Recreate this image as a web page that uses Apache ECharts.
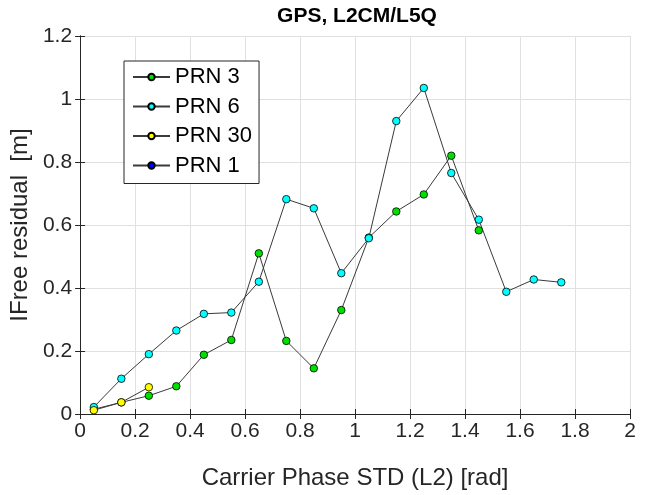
<!DOCTYPE html>
<html>
<head>
<meta charset="utf-8">
<script src="https://cdn.jsdelivr.net/npm/echarts@6/dist/echarts.min.js"></script>
<style>html,body{margin:0;padding:0;background:#fff;}#c{width:651px;height:495px;}</style>
</head>
<body>
<div id="c"></div>
<script>
const titleText = 'GPS, L2CM/L5Q';
const xLabel = 'Carrier Phase STD (L2) [rad]';
const yLabel = 'IFree residual  [m]';
const seriesNames = ['PRN 3', 'PRN 6', 'PRN 30', 'PRN 1'];
const seriesColors = ['#00e000', '#00ffff', '#ffff00', '#0000ff'];
const prn3X = [0.05, 0.15, 0.25, 0.35, 0.45, 0.55, 0.65, 0.75, 0.85, 0.95, 1.05, 1.15, 1.25, 1.35, 1.45];
const prn3Y = [0.015, 0.037, 0.058, 0.088, 0.188, 0.235, 0.51, 0.232, 0.145, 0.33, 0.56, 0.643, 0.697, 0.82, 0.583];
const prn6X = [0.05, 0.15, 0.25, 0.35, 0.45, 0.55, 0.65, 0.75, 0.85, 0.95, 1.05, 1.15, 1.25, 1.35, 1.45, 1.55, 1.65, 1.75];
const prn6Y = [0.022, 0.112, 0.19, 0.265, 0.318, 0.322, 0.42, 0.682, 0.653, 0.447, 0.558, 0.93, 1.035, 0.765, 0.617, 0.388, 0.427, 0.418];
const prn30X = [0.05, 0.15, 0.25];
const prn30Y = [0.012, 0.037, 0.085];
const prn1X = [];
const prn1Y = [];
const xTicks = [0, 0.2, 0.4, 0.6, 0.8, 1, 1.2, 1.4, 1.6, 1.8, 2];
const yTicks = [0, 0.2, 0.4, 0.6, 0.8, 1, 1.2];

const allX = [prn3X, prn6X, prn30X, prn1X];
const allY = [prn3Y, prn6Y, prn30Y, prn1Y];
const font = '"Liberation Sans", Arial, Helvetica, sans-serif';
const fmt = v => String(Math.round(v * 10) / 10);

const chart = echarts.init(document.getElementById('c'), null, {renderer: 'canvas'});
const axisLine = {show: true, lineStyle: {color: '#262626', width: 1}};
const tick = {show: true, inside: true, length: 5, lineStyle: {color: '#262626'}};
const grid = {show: true, lineStyle: {color: '#e0e0e0', width: 1}};
const option = {
  animation: false,
  backgroundColor: '#ffffff',
  title: {text: titleText, left: 357, top: 6, padding: 0, textAlign: 'center',
    textStyle: {fontFamily: font, fontSize: 21, fontWeight: 'bold', color: '#000'}},
  grid: {left: 80, right: 21, top: 36, bottom: 77, containLabel: false},
  legend: {
    orient: 'vertical', left: 124, top: 61, padding: [5, 7, 7, 8],
    itemGap: 7.5, itemWidth: 37, itemHeight: 8,
    backgroundColor: '#fff', borderColor: '#262626', borderWidth: 1, borderRadius: 0,
    textStyle: {fontFamily: font, fontSize: 22, color: '#000'},
    data: seriesNames
  },
  xAxis: [{
    type: 'value', min: 0, max: 2, interval: 0.2,
    name: xLabel, nameLocation: 'middle', nameGap: 52,
    nameTextStyle: {fontFamily: font, fontSize: 24, color: '#262626'},
    axisLine: axisLine, axisTick: tick, splitLine: grid,
    axisLabel: {fontFamily: font, fontSize: 21, color: '#262626', margin: 7, formatter: fmt}
  }, {
    type: 'value', min: 0, max: 2, interval: 0.2, position: 'top',
    axisLine: axisLine, axisTick: tick, splitLine: {show: false}, axisLabel: {show: false}
  }],
  yAxis: [{
    type: 'value', min: 0, max: 1.2, interval: 0.2,
    name: yLabel, nameLocation: 'middle', nameGap: 45,
    nameTextStyle: {fontFamily: font, fontSize: 24, color: '#262626'},
    axisLine: axisLine, axisTick: tick, splitLine: grid,
    axisLabel: {fontFamily: font, fontSize: 21, color: '#262626', margin: 8, formatter: fmt}
  }, {
    type: 'value', min: 0, max: 1.2, interval: 0.2, position: 'right',
    axisLine: axisLine, axisTick: tick, splitLine: {show: false}, axisLabel: {show: false}
  }],
  series: seriesNames.map((n, i) => ({
    name: n, type: 'line', xAxisIndex: 0, yAxisIndex: 0,
    data: allX[i].map((x, j) => [x, allY[i][j]]),
    symbol: 'circle', symbolSize: 7.5, showSymbol: true,
    lineStyle: {color: '#3a3a3a', width: 1},
    itemStyle: {color: seriesColors[i], borderColor: '#000', borderWidth: 0.8},
    color: seriesColors[i]
  }))
};
chart.setOption(option);
</script>
</body>
</html>
